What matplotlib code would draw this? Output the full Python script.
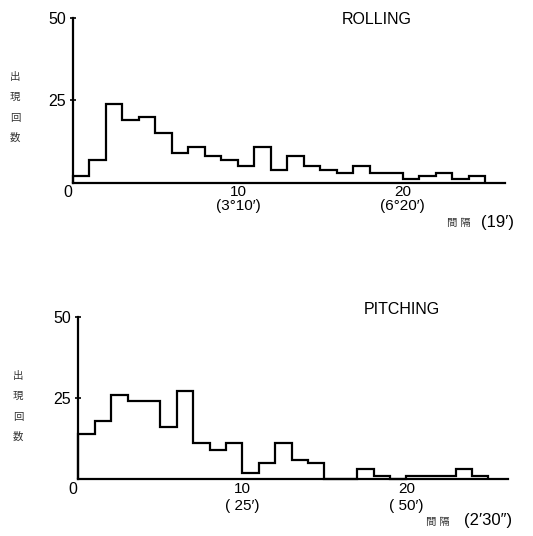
import matplotlib.pyplot as plt
import numpy as np

plt.rcParams['font.family'] = ['Liberation Sans', 'DejaVu Sans', 'Noto Sans CJK JP']

# counts per interval class (class width: 19' for rolling, 2'30" for pitching)
rolling_counts = [2, 7, 24, 19, 20, 15, 9, 11, 8, 7, 5, 11, 4, 8, 5, 4, 3, 5, 3, 3, 1, 2, 3, 1, 2]
pitching_counts = [14, 18, 26, 24, 24, 16, 27, 11, 9, 11, 2, 5, 11, 6, 5, 0, 0, 3, 1, 0, 1, 1, 1, 3, 1]
y_ticks = [25, 50]
x_ticks = [10, 20]
rolling_xlabels = ['10\n(3°10′)', '20\n(6°20′)']
pitching_xlabels = ['10\n( 25′)', '20\n( 50′)']
ylabel_chars = ['出', '現', '回', '数']

W, H = 533, 536
fig = plt.figure(figsize=(W / 100, H / 100), dpi=100)


def px_axes(left, top, right, bottom):
    return fig.add_axes([left / W, 1 - bottom / H, (right - left) / W, (bottom - top) / H])


def px_text(x, y, s, **kw):
    fig.text(x / W, 1 - y / H, s, **kw)


def draw_panel(ax, counts, xlabels, linespacing):
    edges = np.arange(len(counts) + 1)
    ax.stairs(counts, edges, baseline=0, color='black', lw=1.6, clip_on=False)
    ax.set_xlim(0, 26.2)
    ax.set_ylim(0, 50)
    for s in ['top', 'right']:
        ax.spines[s].set_visible(False)
    for s in ['left', 'bottom']:
        ax.spines[s].set_linewidth(1.6)
    ax.set_yticks(y_ticks)
    ax.set_yticklabels([str(v) for v in y_ticks], fontsize=11.5)
    ax.tick_params(axis='y', direction='inout', length=4, width=1.2, pad=3)
    ax.set_xticks(x_ticks)
    ax.set_xticklabels(xlabels, fontsize=11, linespacing=linespacing)
    ax.tick_params(axis='x', length=0, pad=2)
    ax.annotate('0', xy=(0, 0), xytext=(-5, -10), textcoords='offset pixels',
                ha='center', va='center', fontsize=11.5)


ax1 = px_axes(73, 18.3, 505, 182.7)
draw_panel(ax1, rolling_counts, rolling_xlabels, 0.95)
ax2 = px_axes(78.3, 316.7, 508, 479)
draw_panel(ax2, pitching_counts, pitching_xlabels, 1.3)

px_text(377, 20, 'ROLLING', fontsize=11.5, ha='center', va='center')
px_text(402, 310, 'PITCHING', fontsize=11.5, ha='center', va='center')

# vertical y labels
for i, ch in enumerate(ylabel_chars):
    px_text(15, 77 + 20.3 * i, ch, fontsize=7.5, ha='center', va='center', color='#333333')
    px_text(18, 376 + 20.3 * i, ch, fontsize=7.5, ha='center', va='center', color='#333333')

# x axis captions
px_text(459, 223, '間 隔', fontsize=7.5, ha='center', va='center', color='#333333')
px_text(498, 222, '(19′)', fontsize=12, ha='center', va='center')
px_text(438, 522, '間 隔', fontsize=7.5, ha='center', va='center', color='#333333')
px_text(488, 521, '(2′30″)', fontsize=12, ha='center', va='center')

fig.savefig('out.png', dpi=100)
